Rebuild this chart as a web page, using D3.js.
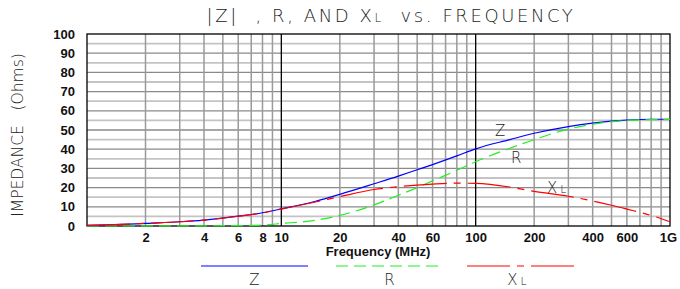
<!DOCTYPE html>
<html><head><meta charset="utf-8">
<script src="https://cdn.jsdelivr.net/npm/d3@7/dist/d3.min.js"></script>
<style>body{margin:0;background:#fff}svg{display:block}</style>
</head><body>
<svg id="c" width="680" height="289"></svg>
<script>
const freqs = [1,1.5,2,3,4,5,6,8,10,15,20,30,40,50,60,80,100,150,200,300,400,500,600,800,1000];
const zVals = [0.3,0.8,1.4,2.2,3.1,4.1,5.1,6.9,8.9,12.9,16.5,22,26,29.3,32,36.5,40.2,45,48.3,51.8,53.6,54.6,55.2,55.6,55.6];
const rVals = [0,0,0.05,0.08,0.1,0.15,0.2,0.5,1.3,3,5.5,11,16,20,23.5,29,33.5,40.5,45,50.5,53,54.3,55,55.4,55.5];
const xlVals = [0.3,0.8,1.4,2.2,3.1,4.1,5.1,6.8,8.8,12.5,15.3,19,20.5,21.3,21.8,22.3,22.2,20.3,18,15.5,13,10.8,8.8,5.5,2.2];
const xTicks = [2,4,6,8,10,20,40,60,100,200,400,600,1000];
const xTickLabels = ["2","4","6","8","10","20","40","60","100","200","400","600","1G"];
const yTicks = [0,10,20,30,40,50,60,70,80,90,100];

const svg = d3.select("#c");
const L = 87, R = 670, T = 34, B = 226;
const x = d3.scaleLog().domain([1,1000]).range([L,R]);
const y = d3.scaleLinear().domain([0,100]).range([B,T]);

// grid
const g = svg.append("g");
for (let v = 5; v < 100; v += 5) {
  g.append("line").attr("x1",L).attr("x2",R).attr("y1",y(v)).attr("y2",y(v))
   .attr("stroke", v % 10 === 0 ? "#8a8a8a" : "#c4c4c4")
   .attr("stroke-width", v % 10 === 0 ? 1.3 : 1.8);
}
const vgrid = [];
[1,10,100].forEach(d => { for (let k = 2; k <= 9; k++) vgrid.push(d*k); });
vgrid.forEach(v => {
  g.append("line").attr("x1",x(v)).attr("x2",x(v)).attr("y1",T).attr("y2",B)
   .attr("stroke","#9a9a9a").attr("stroke-width",1.5);
});
[10,100].forEach(v => {
  g.append("line").attr("x1",x(v)).attr("x2",x(v)).attr("y1",T).attr("y2",B)
   .attr("stroke","#000").attr("stroke-width",1.3);
});
g.append("rect").attr("x",L).attr("y",T).attr("width",R-L).attr("height",B-T)
 .attr("fill","none").attr("stroke","#000").attr("stroke-width",1.3);

// axes labels
const xAxis = d3.axisBottom(x).tickValues(xTicks).tickSize(0).tickFormat((d,i)=>xTickLabels[i]);
const xa = svg.append("g").attr("transform",`translate(0,${B+4})`).call(xAxis);
xa.select(".domain").remove();
xa.selectAll("text").attr("font-family","Liberation Sans, Arial, sans-serif").attr("font-size",13).attr("font-weight","bold").attr("fill","#111");
xa.selectAll(".tick").filter(d=>d===1000).select("text").attr("dx",-2);

const yAxis = d3.axisLeft(y).tickValues(yTicks).tickSize(0).tickFormat(d3.format("d"));
const ya = svg.append("g").attr("transform",`translate(${L-9},0)`).call(yAxis);
ya.select(".domain").remove();
ya.selectAll("text").attr("font-family","Liberation Sans, Arial, sans-serif").attr("font-size",13).attr("font-weight","bold").attr("fill","#111");

svg.append("text").attr("x",378).attr("y",256).attr("text-anchor","middle")
 .attr("font-family","Liberation Sans, Arial, sans-serif").attr("font-size",13).attr("font-weight","bold").attr("fill","#111")
 .text("Frequency (MHz)");

const thin = "DejaVu Sans, sans-serif";
const title = svg.append("text").attr("x",391).attr("y",22).attr("text-anchor","middle")
 .attr("font-family",thin).attr("font-weight",200).attr("font-size",18).attr("letter-spacing",2.6).attr("fill","#222")
 .attr("xml:space","preserve");
title.append("tspan").text("|Z|  , R, AND X");
title.append("tspan").attr("font-size",12).text("L");
title.append("tspan").text("  vs. FREQUENCY");

svg.append("text").attr("transform","translate(23,135) rotate(-90)").attr("text-anchor","middle")
 .attr("font-family",thin).attr("font-weight",200).attr("font-size",15.5).attr("fill","#222")
 .attr("xml:space","preserve")
 .text("IMPEDANCE   (Ohms)");

// curves
const series = [
  {vals: zVals, color:"#0000ff", dash:null},
  {vals: rVals, color:"#22ee22", dash:"12,6"},
  {vals: xlVals, color:"#ff0000", dash:"43,7,7,7"}
];
const line = d3.line().x(d=>x(d[0])).y(d=>y(d[1])).curve(d3.curveMonotoneX);
series.forEach(s => {
  svg.append("path").datum(freqs.map((f,i)=>[f,s.vals[i]]))
   .attr("d",line).attr("fill","none").attr("stroke",s.color).attr("stroke-width",1.2)
   .attr("stroke-dasharray",s.dash);
});

// in-plot labels
function lab(xp, yp, main, sub) {
  const t = svg.append("text").attr("x",xp).attr("y",yp).attr("font-family",thin).attr("font-weight",200)
    .attr("font-size",15).attr("fill","#222");
  t.append("tspan").text(main);
  if (sub) t.append("tspan").attr("dx",3).attr("font-size",11).text(sub);
}
lab(495,136,"Z");
lab(511,163,"R");
lab(547,193,"X","L");

// legend
const legend = [
  {x1:201,x2:308,color:"#0000ff",dash:null,label:"Z",sub:null},
  {x1:336,x2:443,color:"#22ee22",dash:"12,6",label:"R",sub:null},
  {x1:467,x2:575,color:"#ff0000",dash:"43,7,7,7",label:"X",sub:"L"}
];
legend.forEach(l => {
  svg.append("line").attr("x1",l.x1).attr("x2",l.x2).attr("y1",266).attr("y2",266)
   .attr("stroke",l.color).attr("stroke-width",1.2).attr("stroke-dasharray",l.dash);
  const cx = (l.x1+l.x2)/2;
  const t = svg.append("text").attr("x",cx - (l.sub?4:0)).attr("y",285).attr("text-anchor","middle")
   .attr("font-family",thin).attr("font-weight",200).attr("font-size",15).attr("fill","#222");
  t.append("tspan").text(l.label);
  if (l.sub) t.append("tspan").attr("dx",3).attr("font-size",11).text(l.sub);
});
</script>
</body></html>
